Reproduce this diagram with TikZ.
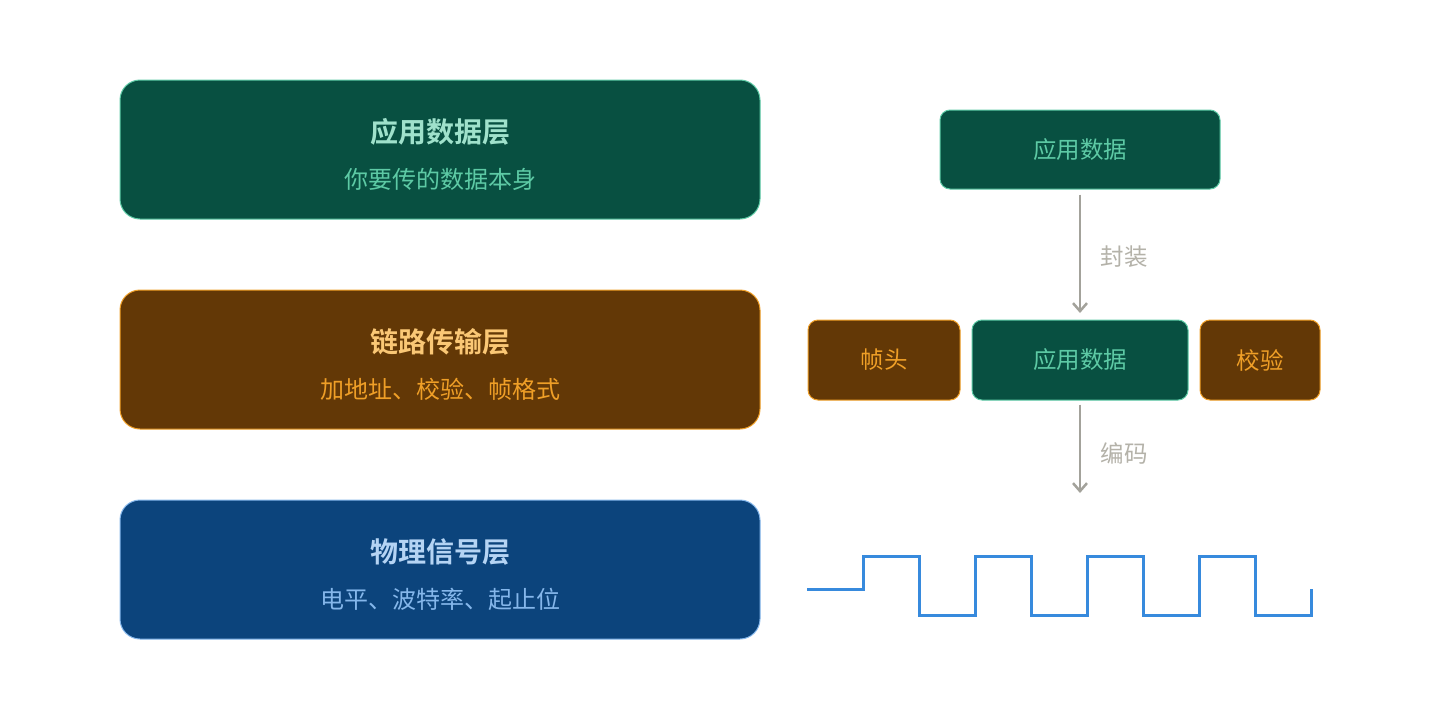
\documentclass[tikz,border=0pt]{standalone}
\usepackage{fontspec}
\setmainfont{Noto Sans CJK SC}
\newfontfamily\cjkb{Noto Sans CJK SC Bold}
\usetikzlibrary{arrows.meta}
\definecolor{gfill}{HTML}{085041}
\definecolor{gline}{HTML}{5DCAA5}
\definecolor{gtitle}{HTML}{9FE1CB}
\definecolor{gsub}{HTML}{5DCAA5}
\definecolor{bfill}{HTML}{633806}
\definecolor{bline}{HTML}{EF9F27}
\definecolor{btitle}{HTML}{FAC775}
\definecolor{bsub}{HTML}{EF9F27}
\definecolor{ufill}{HTML}{0C447C}
\definecolor{uline}{HTML}{85B7EB}
\definecolor{utitle}{HTML}{B5D4F4}
\definecolor{usub}{HTML}{85B7EB}
\definecolor{wave}{HTML}{378ADD}
\definecolor{arr}{HTML}{A3A29B}
\definecolor{lab}{HTML}{B4B2A9}
\tikzset{
  x=1pt,y=-1pt,
  bigbox/.style={rounded corners=20pt,line width=1pt},
  smallbox/.style={rounded corners=10pt,line width=1pt,inner sep=0pt},
  ttl/.style={font=\cjkb\fontsize{28}{32}\selectfont},
  sub/.style={font=\fontsize{24}{28}\selectfont},
  lbl/.style={font=\fontsize{23.5}{28}\selectfont},
  flow/.style={draw=arr,line width=2.5pt,-{Straight Barb[length=8pt,width=14pt,line width=2.5pt]}},
}
\begin{document}
\begin{tikzpicture}
\useasboundingbox[fill=white] (0,0) rectangle (1440,720);
% left layer boxes
\draw[bigbox,fill=gfill,draw=gline] (120,80) rectangle (760,219);
\node[ttl,text=gtitle] (t1) at (440,132) {应用数据层};
\node[sub,text=gsub] (s1) at (440,179) {你要传的数据本身};
\draw[bigbox,fill=bfill,draw=bline] (120,290) rectangle (760,429);
\node[ttl,text=btitle] (t2) at (440,342) {链路传输层};
\node[sub,text=bsub] (s2) at (440,389) {加地址、校验、帧格式};
\draw[bigbox,fill=ufill,draw=uline] (120,500) rectangle (760,639);
\node[ttl,text=utitle] (t3) at (440,552) {物理信号层};
\node[sub,text=usub] (s3) at (440,599) {电平、波特率、起止位};
% right side
\node[smallbox,fill=gfill,draw=gline,minimum width=280pt,minimum height=79pt,lbl,text=gsub] (app) at (1080,149.5) {应用数据};
\node[smallbox,fill=bfill,draw=bline,minimum width=152pt,minimum height=80pt,lbl,text=bsub] (hdr) at (884,360) {帧头};
\node[smallbox,fill=gfill,draw=gline,minimum width=216pt,minimum height=80pt,lbl,text=gsub] (app2) at (1080,360) {应用数据};
\node[smallbox,fill=bfill,draw=bline,minimum width=120pt,minimum height=80pt,lbl,text=bsub] (chk) at (1260,360) {校验};
\coordinate (e1) at (1080,313);
\coordinate (e2) at (1080,493);
\draw[flow] ([yshift=-5pt]app.south) -- (e1);
\draw[flow] ([yshift=-4pt]app2.south) -- (e2);
\node[lbl,text=lab] (l1) at (1124,257) {封装};
\node[lbl,text=lab] (l2) at (1124,453) {编码};
% waveform
\draw[wave,line width=3pt,line join=miter] (807,589) -- (863,589) -- (863,556) -- (919,556) -- (919,615)
 -- (975,615) -- (975,556) -- (1031,556) -- (1031,615)
 -- (1087,615) -- (1087,556) -- (1143,556) -- (1143,615)
 -- (1199,615) -- (1199,556) -- (1255,556) -- (1255,615)
 -- (1311,615) -- (1311,589);
\end{tikzpicture}
\end{document}
